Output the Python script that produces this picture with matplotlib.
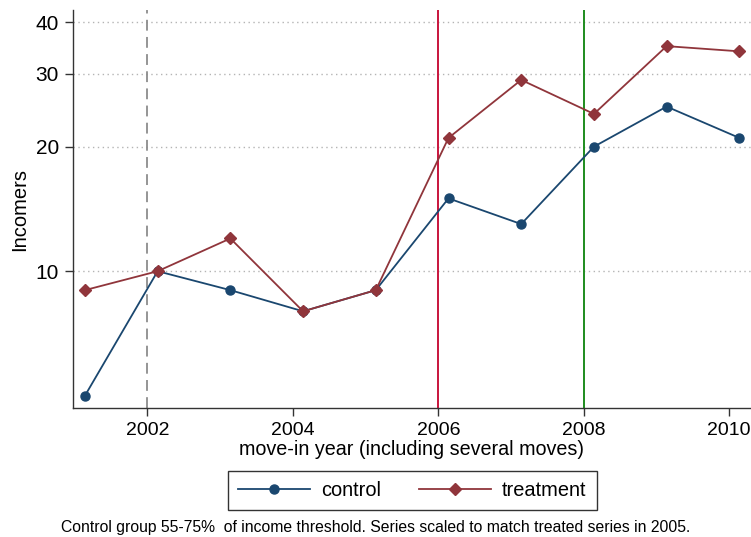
import matplotlib
matplotlib.use("Agg")
import matplotlib.pyplot as plt
from matplotlib.ticker import FixedLocator, NullLocator, FixedFormatter

plt.rcParams["font.family"] = ["Liberation Sans", "DejaVu Sans"]

# data (log y axis)
years = [2001, 2002, 2003, 2004, 2005, 2006, 2007, 2008, 2009, 2010]
control = [5.0, 10.0, 9.0, 8.0, 9.0, 15.0, 13.0, 20.0, 25.0, 21.0]
treatment = [9.0, 10.0, 12.0, 8.0, 9.0, 21.0, 29.0, 24.0, 35.0, 34.0]
ref_years = [2002, 2006, 2008]
ref_colors = ["#8c8c8c", "#c8143c", "#1e8c1e"]
ref_styles = ["--", "-", "-"]
y_ticks = [10, 20, 30, 40]
x_ticks = [2002, 2004, 2006, 2008, 2010]

NAVY = "#1a476f"
MAROON = "#90353b"
OFFSET = 0.14  # points sit a bit to the right of the year ticks

fig = plt.figure(figsize=(7.51, 5.37), dpi=100)
ax = fig.add_axes([0.0972, 0.2402, 0.9028, 0.7412])

xs = [y + OFFSET for y in years]

for yr, c, ls in zip(ref_years, ref_colors, ref_styles):
    if ls == "--":
        ax.axvline(yr, color=c, linestyle=(0, (6, 3.5)), linewidth=1.3, zorder=1)
    else:
        ax.axvline(yr, color=c, linewidth=1.4, zorder=1)

for v in y_ticks:
    ax.axhline(v, color="#b4b4b4", linestyle=(0, (1, 2.5)), linewidth=1.0, zorder=0)

ax.plot(xs, control, color=NAVY, linewidth=1.3, marker="o", markersize=6.5,
        label="control", zorder=3)
ax.plot(xs, treatment, color=MAROON, linewidth=1.3, marker="D", markersize=6.5,
        label="treatment", zorder=3)

ax.set_yscale("log")
ax.set_ylim(4.67, 42.8)
ax.set_xlim(2000.976, 2010.30)
ax.yaxis.set_major_locator(FixedLocator(y_ticks))
ax.yaxis.set_major_formatter(FixedFormatter([str(v) for v in y_ticks]))
ax.yaxis.set_minor_locator(NullLocator())
ax.set_xticks(x_ticks)

for s in ["top", "right"]:
    ax.spines[s].set_visible(False)
for s in ["left", "bottom"]:
    ax.spines[s].set_color("#333333")
    ax.spines[s].set_linewidth(1.0)
ax.tick_params(axis="both", direction="out", length=6, width=1.0,
               color="#333333", labelsize=14, pad=4)
ax.tick_params(axis="y", labelsize=15)

ax.set_ylabel("Incomers", fontsize=14.5, labelpad=5)
ax.set_xlabel("move-in year (including several moves)", fontsize=14.2, labelpad=1)

leg = fig.legend(loc="center", bbox_to_anchor=(0.549, 0.0875), ncol=2,
                 fontsize=14.4, frameon=True, fancybox=False, edgecolor="black",
                 handlelength=3.6, columnspacing=1.9, borderpad=0.5,
                 handletextpad=0.55, borderaxespad=0)
leg.get_frame().set_linewidth(1.0)

fig.text(0.5, 0.003, "Control group 55-75%  of income threshold. Series scaled to match treated series in 2005.",
         ha="center", va="bottom", fontsize=11.3)

fig.savefig("out.png", dpi=100)
